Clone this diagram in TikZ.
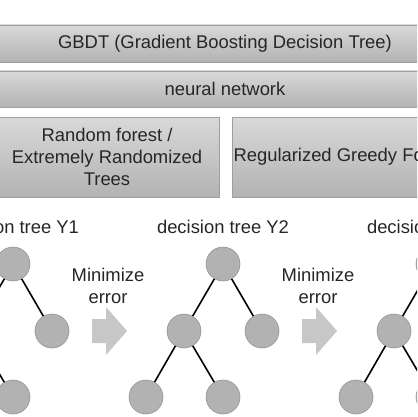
\documentclass[tikz,border=0pt]{standalone}
\usepackage{fontspec}
\setmainfont{Liberation Sans}
\newcommand\mytree[2]{%
  \node[treenode] (#1r)  at (#2,264) {};
  \node[treenode] (#1l)  at ({#2-39},331) {};
  \node[treenode] (#1rr) at ({#2+39},331) {};
  \node[treenode] (#1ll) at ({#2-77},397) {};
  \node[treenode] (#1lr) at (#2,397) {};
  \draw[branch] (#1r) -- (#1l);
  \draw[branch] (#1r) -- (#1rr);
  \draw[branch] (#1l) -- (#1ll);
  \draw[branch] (#1l) -- (#1lr);
}
\begin{document}
\begin{tikzpicture}[x=1pt,y=-1pt,
  every node/.style={font=\fontsize{18.4}{21.6}\selectfont, text=black!85},
  band/.style={draw=black!38, line width=0.8pt, top color=black!15, bottom color=black!30, inner sep=0pt, align=center},
  treenode/.style={circle, fill=black!30, draw=black!42, line width=0.6pt, minimum size=34pt, inner sep=0pt},
  branch/.style={line width=1.6pt, black},
  blockarrow/.style={fill=black!22},
  label/.style={inner sep=0pt, align=center}]
\useasboundingbox (0,0) rectangle (417,417);
\clip (0,0) rectangle (417,417);
\fill[white] (0,0) rectangle (417,417);
% bands
\node[band, minimum width=470pt, minimum height=37pt] (gbdt) at (225,43.5) {GBDT (Gradient Boosting Decision Tree)};
\node[band, minimum width=470pt, minimum height=36pt] (nn) at (225,89) {neural network};
\node[band, minimum width=224pt, minimum height=80pt] (rf) at (107,157) {Random forest /\\Extremely Randomized\\Trees};
\node[band, minimum width=224pt, minimum height=80pt] (rgf) at (344,157) {Regularized Greedy Forest};
% tree titles
\node[label] (ty1) at (13,227) {decision tree Y1};
\node[label] (ty2) at (223,227) {decision tree Y2};
\node[label] (ty3) at (433,227) {decision tree Y3};
% trees
\mytree{a}{13}
\mytree{b}{223}
\mytree{c}{433}
% block arrows
\coordinate (a1) at (92,331);
\coordinate (a2) at (302,331);
\fill[blockarrow] (a1) ++(0,-12) -- ++(14,0) -- ++(0,-12) -- ++(21,24) -- ++(-21,24) -- ++(0,-12) -- ++(-14,0) -- cycle;
\fill[blockarrow] (a2) ++(0,-12) -- ++(14,0) -- ++(0,-12) -- ++(21,24) -- ++(-21,24) -- ++(0,-12) -- ++(-14,0) -- cycle;
\node[label] (m1) at (108,286) {Minimize\\error};
\node[label] (m2) at (318,286) {Minimize\\error};
\end{tikzpicture}
\end{document}
